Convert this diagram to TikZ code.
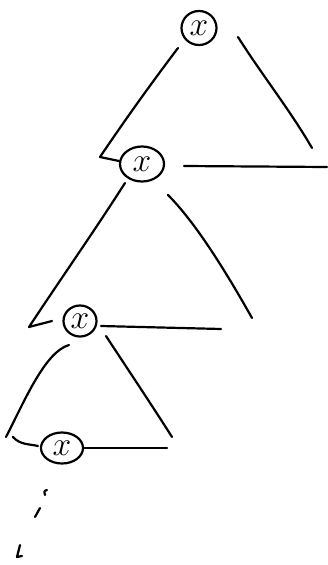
\documentclass[tikz,border=0pt]{standalone}
\usepackage{graphicx}
\usetikzlibrary{shapes.geometric}
\newcommand{\bigx}{\scalebox{1.35}{$x$}}
\begin{document}
\begin{tikzpicture}[x=1pt,y=-1pt,
  stroke/.style={line width=2.2pt,line cap=round,line join=round,black},
  xnode/.style={ellipse,draw,line width=2.2pt,inner sep=0pt,font=\fontsize{24.88}{26}\selectfont}]
\useasboundingbox (0,0) rectangle (328,565);
% nodes
\node[xnode,minimum width=35pt,minimum height=34pt] (t1) at (199,28) {\bigx};
\node[xnode,minimum width=44pt,minimum height=35pt] (t2) at (142,164) {\bigx};
\node[xnode,minimum width=33pt,minimum height=31pt] (t3) at (80,321) {\bigx};
\node[xnode,minimum width=42pt,minimum height=31pt] (t4) at (62,448) {\bigx};
% endpoints
\coordinate (a1) at (178,48);
\coordinate (a2) at (100,157);
\coordinate (a3) at (119,161);
\coordinate (b1) at (238,37);
\coordinate (b2) at (312,148);
\coordinate (c1) at (184,166);
\coordinate (c2) at (327,167);
\coordinate (d1) at (125,183);
\coordinate (d2) at (29,327);
\coordinate (d3) at (52,321);
\coordinate (e1) at (168,195);
\coordinate (e2) at (252,318);
\coordinate (f1) at (101,326);
\coordinate (f2) at (221,329);
\coordinate (g1) at (69,345);
\coordinate (g2) at (6,437);
\coordinate (g3) at (13,437);
\coordinate (g4) at (38,446);
\coordinate (h1) at (106,336);
\coordinate (h2) at (172,437);
\coordinate (k1) at (83,448);
\coordinate (k2) at (167,448);
% triangle 1
\draw[stroke] (a1) .. controls (150,85) and (125,120) .. (a2) -- (a3);
\draw[stroke] (b1) .. controls (262,75) and (290,110) .. (b2);
\draw[stroke] (c1) -- (c2);
% triangle 2
\draw[stroke] (d1) .. controls (95,230) and (60,280) .. (d2) -- (d3);
\draw[stroke] (e1) .. controls (195,222) and (225,270) .. (e2);
\draw[stroke] (f1) -- (f2);
% triangle 3
\draw[stroke] (g1) .. controls (45,352) and (25,400) .. (g2);
\draw[stroke] (g3) .. controls (20,445) and (30,444) .. (g4);
\draw[stroke] (h1) .. controls (125,365) and (155,410) .. (h2);
\draw[stroke] (k1) -- (k2);
% dots
\coordinate (p1) at (47,490);
\coordinate (p2) at (45,495);
\coordinate (q1) at (40,508);
\coordinate (q2) at (35,517);
\coordinate (r1) at (20,545);
\coordinate (r2) at (17,557);
\coordinate (r3) at (22,556);
\draw[stroke] (p1) .. controls (44,491) .. (p2);
\draw[stroke] (q1) -- (q2);
\draw[stroke] (r1) -- (r2) -- (r3);
\end{tikzpicture}
\end{document}
